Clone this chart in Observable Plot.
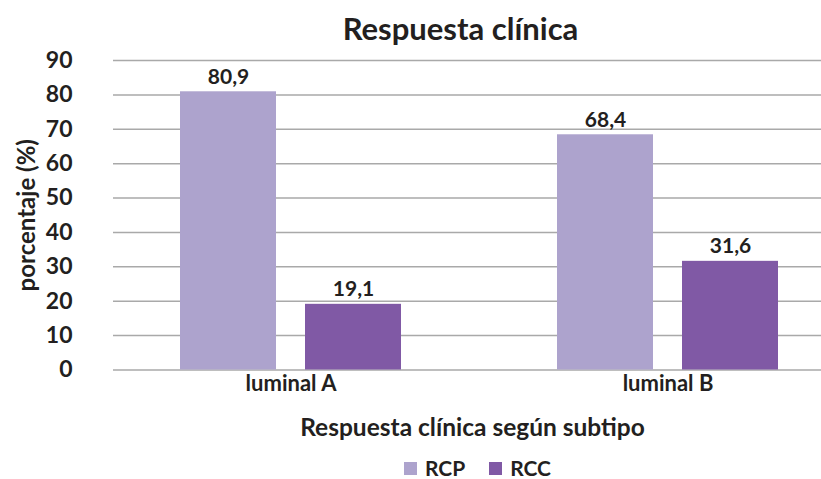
<!DOCTYPE html>
<html><head><meta charset="utf-8">
<script src="https://cdn.jsdelivr.net/npm/d3@7"></script>
<script src="https://cdn.jsdelivr.net/npm/@observablehq/plot@0.6"></script>
<style>
body{margin:0;background:#fff;font-family:Lato,"Open Sans",sans-serif;color:#231f20;}
#legend{display:flex;justify-content:center;align-items:center;height:22px;line-height:22px;margin-top:7px;padding-left:134px;box-sizing:border-box;width:821px;font-weight:700;font-size:21px;}
#legend .item{display:flex;align-items:center;margin:0 12px;}
#legend .sw{width:13px;height:13px;margin-right:8px;}
</style></head>
<body><div id="chart"></div><div id="legend"></div>
<script>
const title = "Respuesta clínica";
const xLabel = "Respuesta clínica según subtipo";
const yLabel = "porcentaje (%)";
const subtypes = ["luminal A", "luminal B"];
const series = ["RCP", "RCC"];
const rcpValues = [80.9, 68.4];
const rccValues = [19.1, 31.6];
const yTicks = [0, 10, 20, 30, 40, 50, 60, 70, 80, 90];
const colors = ["#ada3cd", "#8059a5"];
const ink = "#231f20";

const data = subtypes.flatMap((s, i) => [
  {subtype: s, series: "RCP", value: rcpValues[i]},
  {subtype: s, series: "RCC", value: rccValues[i]}
]);
const fmt = v => String(v).replace(".", ",");
const rcp = data.filter(d => d.series === "RCP");
const rcc = data.filter(d => d.series === "RCC");

const chart = Plot.plot({
  width: 821,
  height: 450,
  marginLeft: 113,
  marginRight: 0,
  marginTop: 60,
  marginBottom: 80.5,
  style: {fontFamily: "Lato, 'Open Sans', sans-serif", fontWeight: "bold", color: ink, background: "#fff"},
  x: {domain: subtypes, paddingInner: 0.4127, paddingOuter: 0.1429, align: 0.611},
  y: {domain: [0, 90]},
  color: {domain: series, range: colors},
  marks: [
    Plot.ruleY(yTicks, {stroke: "#a9a9a9", strokeWidth: 1.5}),
    Plot.barY(rcp, {x: "subtype", y: "value", fill: "series", insetRight: 125}),
    Plot.barY(rcc, {x: "subtype", y: "value", fill: "series", insetLeft: 125}),
    Plot.text(rcp, {x: "subtype", y: "value", text: d => fmt(d.value), dx: -62.5, dy: -8, lineAnchor: "bottom", fontSize: 21, fontWeight: "bold", fill: ink}),
    Plot.text(rcc, {x: "subtype", y: "value", text: d => fmt(d.value), dx: 62.5, dy: -8, lineAnchor: "bottom", fontSize: 21, fontWeight: "bold", fill: ink}),
    Plot.axisX({tickSize: 0, tickPadding: 5, fontSize: 22, fontWeight: "bold", fill: ink, label: null}),
    Plot.axisY({ticks: yTicks, tickSize: 0, tickPadding: 41, fontSize: 23, fontWeight: "bold", fill: ink, label: null}),
    Plot.text([title], {text: d => d, frameAnchor: "top", lineAnchor: "middle", textAnchor: "middle", dy: -30, dx: -7, fontSize: 31, fontWeight: "bold", fill: ink}),
    Plot.text([yLabel], {text: d => d, frameAnchor: "left", textAnchor: "middle", lineAnchor: "middle", dx: -86, rotate: -90, fontSize: 24, fontWeight: "bold", fill: ink}),
    Plot.text([xLabel], {text: d => d, frameAnchor: "bottom", lineAnchor: "middle", textAnchor: "middle", dy: 58, dx: 5, fontSize: 24.5, fontWeight: "bold", fill: ink})
  ]
});
document.getElementById("chart").appendChild(chart);

const legend = d3.select("#legend");
series.forEach((s, i) => {
  const item = legend.append("div").attr("class", "item");
  item.append("div").attr("class", "sw").style("background", colors[i]);
  item.append("span").text(s);
});
</script>
</body></html>
